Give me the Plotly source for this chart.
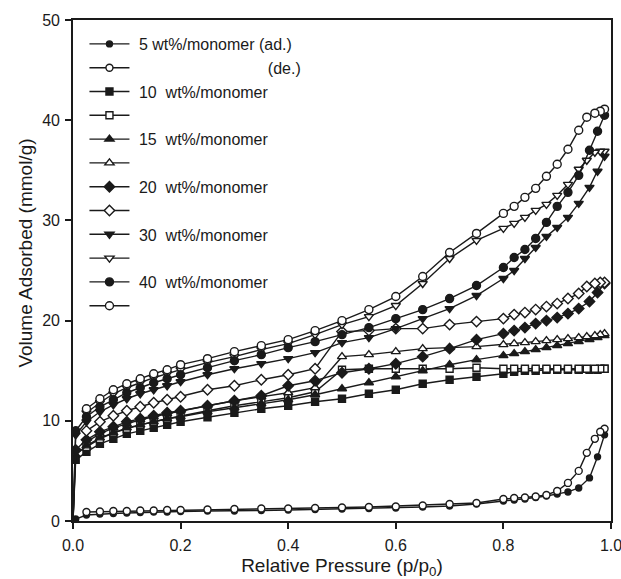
import plotly.graph_objects as go

# Relative pressure grids for the adsorption and desorption branches
P_AD = [0.0, 0.005, 0.025, 0.05, 0.075, 0.1, 0.125, 0.15, 0.175, 0.2, 0.25, 0.3, 0.35, 0.4,
        0.45, 0.5, 0.55, 0.6, 0.65, 0.7, 0.75, 0.8, 0.82, 0.84, 0.86, 0.88, 0.9, 0.92,
        0.94, 0.96, 0.975, 0.988]
P_DE = [0.988, 0.98, 0.97, 0.955, 0.94, 0.92, 0.9, 0.88, 0.86, 0.84, 0.82, 0.8, 0.75,
        0.7, 0.65, 0.6, 0.55, 0.5, 0.45, 0.4, 0.35, 0.3, 0.25, 0.2, 0.175, 0.15, 0.125,
        0.1, 0.075, 0.05, 0.025]

# Volume adsorbed (mmol/g)
V5_AD = [0.0, 0.2, 0.6, 0.7, 0.75, 0.8, 0.85, 0.9, 0.9, 0.95, 1.0, 1.0, 1.05, 1.1,
         1.15, 1.2, 1.25, 1.3, 1.4, 1.5, 1.7, 2.0, 2.1, 2.2, 2.35, 2.5, 2.7, 2.9,
         3.3, 4.3, 6.4, 8.6]
V5_DE = [9.2, 8.9, 8.2, 6.8, 5.0, 3.8, 3.0, 2.6, 2.45, 2.35, 2.3, 2.2, 1.8,
         1.7, 1.55, 1.45, 1.4, 1.35, 1.3, 1.25, 1.25, 1.2, 1.15, 1.1, 1.1, 1.05, 1.05,
         1.0, 1.0, 0.95, 0.9]

V10_AD = [0.0, 6.1, 6.9, 7.7, 8.2, 8.7, 9.0, 9.3, 9.6, 9.9, 10.35, 10.8, 11.2, 11.5,
          11.9, 12.2, 12.7, 13.1, 13.7, 14.1, 14.4, 14.7, 14.9, 15.0, 15.0, 15.1, 15.1, 15.1,
          15.1, 15.1, 15.1, 15.2]
V10_DE = [15.2, 15.2, 15.2, 15.2, 15.2, 15.2, 15.2, 15.2, 15.2, 15.2, 15.2, 15.2, 15.3,
          15.2, 15.2, 15.2, 15.2, 15.1, 12.9, 12.3, 11.9, 11.5, 11.0, 10.5, 10.2, 9.9, 9.6,
          9.2, 8.8, 8.2, 7.4]

V15_AD = [0.0, 6.6, 7.5, 8.3, 8.8, 9.3, 9.6, 9.9, 10.2, 10.4, 10.9, 11.3, 11.7, 12.1,
          12.6, 13.2, 13.8, 14.4, 15.0, 15.6, 16.1, 16.5, 16.7, 16.9, 17.1, 17.3, 17.5, 17.7,
          17.9, 18.1, 18.3, 18.5]
V15_DE = [18.7, 18.6, 18.5, 18.4, 18.3, 18.2, 18.1, 18.0, 17.9, 17.8, 17.7, 17.6, 17.4,
          17.3, 17.2, 16.9, 16.6, 16.4, 13.3, 12.8, 12.4, 12.0, 11.5, 11.0, 10.7, 10.4, 10.1,
          9.7, 9.3, 8.7, 7.9]

V20_AD = [0.0, 7.1, 8.1, 8.9, 9.4, 9.9, 10.2, 10.5, 10.8, 11.0, 11.5, 12.0, 12.5, 13.5,
          14.0, 14.8, 15.2, 15.7, 16.4, 17.2, 18.1, 18.7, 19.0, 19.3, 19.7, 20.0, 20.3, 20.7,
          21.2, 21.9, 22.8, 23.7]
V20_DE = [23.8, 23.8, 23.7, 23.4, 22.7, 22.2, 21.7, 21.4, 21.1, 20.8, 20.6, 20.2, 19.9,
          19.6, 19.2, 19.2, 19.0, 18.9, 15.2, 14.6, 14.1, 13.5, 13.1, 12.4, 12.1, 11.8, 11.4,
          11.0, 10.5, 9.9, 9.0]

V30_AD = [0.0, 8.6, 9.9, 10.9, 11.6, 12.2, 12.7, 13.1, 13.5, 13.9, 14.6, 15.2, 15.7, 16.2,
          16.8, 17.8, 18.3, 19.2, 20.2, 21.2, 22.5, 24.2, 25.0, 26.2, 27.3, 28.4, 29.3, 30.3,
          31.7, 33.3, 34.9, 36.4]
V30_DE = [36.9, 36.9, 36.8, 36.0, 35.1, 33.6, 32.5, 31.6, 31.0, 30.3, 29.7, 29.2, 28.0,
          26.2, 23.7, 21.5, 20.4, 19.6, 18.6, 17.7, 17.1, 16.4, 15.8, 15.1, 14.7, 14.3, 13.8,
          13.3, 12.7, 11.8, 10.8]

V40_AD = [0.0, 9.0, 10.4, 11.4, 12.1, 12.8, 13.3, 13.8, 14.2, 14.6, 15.3, 16.0, 16.6, 17.3,
          17.9, 18.6, 19.3, 20.2, 21.1, 22.2, 23.5, 25.3, 26.3, 27.1, 28.2, 29.8, 31.4, 32.8,
          34.5, 37.0, 38.9, 40.5]
V40_DE = [41.1, 40.9, 40.7, 40.3, 39.0, 37.1, 35.6, 34.4, 33.2, 32.3, 31.4, 30.7, 28.7,
          26.8, 24.4, 22.4, 21.1, 20.0, 19.0, 18.1, 17.5, 16.9, 16.2, 15.6, 15.1, 14.7, 14.2,
          13.7, 13.1, 12.2, 11.2]

NBSP = "\u00a0"
LABELS = [NBSP + "5 wt%/monomer (ad.)", NBSP * 30 + "(de.)",
          NBSP + "10" + NBSP * 2 + "wt%/monomer", "",
          NBSP + "15" + NBSP * 2 + "wt%/monomer", "",
          NBSP + "20" + NBSP * 2 + "wt%/monomer", "",
          NBSP + "30" + NBSP * 2 + "wt%/monomer", "",
          NBSP + "40" + NBSP * 2 + "wt%/monomer", ""]

SERIES = [
    (P_AD, V5_AD, "circle", True, 6),
    (P_DE, V5_DE, "circle", False, 7),
    (P_AD, V10_AD, "square", True, 7),
    (P_DE, V10_DE, "square", False, 7),
    (P_AD, V15_AD, "triangle-up", True, 8),
    (P_DE, V15_DE, "triangle-up", False, 8),
    (P_AD, V20_AD, "diamond", True, 8),
    (P_DE, V20_DE, "diamond", False, 8),
    (P_AD, V30_AD, "triangle-down", True, 8),
    (P_DE, V30_DE, "triangle-down", False, 8),
    (P_AD, V40_AD, "circle", True, 8),
    (P_DE, V40_DE, "circle", False, 8),
]

FONT = "Liberation Sans, Arial, sans-serif"
INK = "#1a1a1a"

fig = go.Figure()
for i, (px, vy, sym, filled, size) in enumerate(SERIES):
    fig.add_trace(go.Scatter(
        x=px, y=vy, mode="lines+markers", name=LABELS[i],
        legendgroup=f"g{i}",
        line=dict(color=INK, width=1.4),
        marker=dict(symbol=sym, size=size,
                    color=INK if filled else "white",
                    line=dict(color=INK, width=1.4)),
    ))

axis_common = dict(
    showline=True, linecolor=INK, linewidth=1.7, mirror=True,
    ticks="outside", ticklen=6, tickwidth=1.6, tickcolor=INK,
    showgrid=False, zeroline=False, automargin=False,
    ticklabeloverflow="allow",
    tickfont=dict(family=FONT, size=16, color=INK),
)

fig.update_layout(
    width=621, height=579,
    margin=dict(l=73, r=10, t=20, b=58),
    paper_bgcolor="white", plot_bgcolor="white",
    showlegend=True,
    legend=dict(
        x=0.0213, y=0.986, xanchor="left", yanchor="top",
        bgcolor="rgba(0,0,0,0)", borderwidth=0,
        font=dict(family=FONT, size=16, color=INK),
        itemwidth=40, tracegroupgap=0, traceorder="grouped",
    ),
    xaxis=dict(range=[0, 1], tickvals=[0, 0.2, 0.4, 0.6, 0.8, 1.0],
               ticktext=["0.0", "0.2", "0.4", "0.6", "0.8", "1.0"],
               ticklabelstandoff=3,
               title=dict(text="Relative Pressure (p/p<sub>0</sub>)", standoff=9,
                          font=dict(family=FONT, size=19, color=INK)),
               **axis_common),
    yaxis=dict(range=[0, 50], tickvals=[0, 10, 20, 30, 40, 50],
               ticklabelstandoff=2, **axis_common),
)

# Y-axis title placed slightly above the axis midpoint
fig.add_annotation(
    text="Volume Adsorbed (mmol/g)", textangle=-90,
    xref="paper", yref="paper", x=-0.088, y=0.535,
    xanchor="center", yanchor="middle", showarrow=False,
    font=dict(family=FONT, size=19, color=INK),
)

fig.write_html("out.html")
